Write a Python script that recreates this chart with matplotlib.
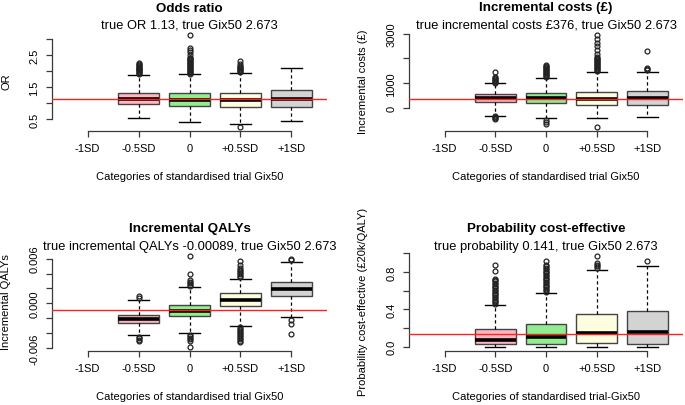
import matplotlib
matplotlib.use('Agg')
import matplotlib.pyplot as plt

plt.rcParams['font.family'] = ['Liberation Sans', 'DejaVu Sans']

categories = ['-1SD', '-0.5SD', '0', '+0.5SD', '+1SD']
box_colors = ['#FFB6C1', '#90EE90', '#FFFDE0', '#D3D3D3']
box_pos = [2, 3, 4, 5]

# odds ratio
or_lo = [0.53, 0.42, 0.37, 0.46]
or_q1 = [0.97, 0.93, 0.90, 0.90]
or_med = [1.14, 1.09, 1.11, 1.13]
or_q3 = [1.32, 1.32, 1.32, 1.40]
or_hi = [1.88, 1.90, 1.95, 2.10]
or_out = [
    [1.90, 1.93, 1.96, 1.99, 2.02, 2.05, 2.08, 2.11, 2.14, 2.17, 2.20, 2.23, 2.26],
    [1.92, 1.95, 1.98, 2.01, 2.04, 2.07, 2.10, 2.13, 2.16, 2.19, 2.22, 2.25, 2.28,
     2.31, 2.34, 2.37, 2.40, 2.42, 2.50, 2.58, 2.66, 2.73, 3.13],
    [1.97, 2.00, 2.03, 2.06, 2.09, 2.12, 2.15, 2.23, 2.31, 0.27],
    [],
]

# incremental costs
cost_lo = [-312, -417, -417, -377]
cost_q1 = [231, 190, 109, 109]
cost_med = [393, 405, 352, 417]
cost_q3 = [579, 619, 660, 700]
cost_hi = [1000, 1227, 1470, 1445]
cost_out = [
    [1030, 1070, 1110, 1150, 1190, 1230, 1270, 1445, -340, -380, -420, -450],
    [1260, 1300, 1340, 1380, 1420, 1460, 1500, 1540, 1580, 1620, 1660, 1700, 1740,
     -500, -560, -648],
    [1500, 1540, 1580, 1620, 1660, 1700, 1740, 1780, 1820, 1860, 1900, 1940, 1980,
     2020, 2077, 2200, 2348, 2510, 2644, 2780, 2960, -757],
    [1540, 1580, 1620, 2320],
]

# incremental QALYs
qaly_lo = [-0.0043, -0.0040, -0.0030, -0.00178]
qaly_q1 = [-0.00267, -0.0017, -0.0004, 0.00097]
qaly_med = [-0.00209, -0.00097, 0.00044, 0.0019]
qaly_q3 = [-0.00151, -0.00023, 0.00133, 0.0029]
qaly_hi = [0.0004, 0.00213, 0.0033, 0.00556]
qaly_out = [
    [0.00076, 0.00097, -0.0045, -0.0047, -0.0049, -0.0051],
    [0.0023, 0.0025, 0.0027, 0.0029, 0.0031, 0.0040, 0.0064,
     -0.0042, -0.0044, -0.0046, -0.0048, -0.0050, -0.00583],
    [0.0035, 0.0037, 0.0039, 0.0041, 0.0043, 0.0045, 0.0047, 0.0052, 0.0057,
     -0.0032, -0.0034, -0.0036, -0.0038, -0.0040, -0.0042, -0.0044, -0.0046,
     -0.0048, -0.0050, -0.0052],
    [0.0058, 0.0060, -0.00227, -0.0027, -0.00413],
]

# probability cost-effective
prob_lo = [0.0, 0.0, 0.0, 0.0]
prob_q1 = [0.032, 0.032, 0.040, 0.032]
prob_med = [0.078, 0.107, 0.153, 0.160]
prob_q3 = [0.190, 0.246, 0.350, 0.378]
prob_hi = [0.447, 0.575, 0.825, 0.868]
prob_out = [
    [0.46, 0.475, 0.49, 0.505, 0.52, 0.535, 0.55, 0.565, 0.58, 0.595, 0.61, 0.625,
     0.64, 0.655, 0.67, 0.685, 0.70, 0.715, 0.726, 0.807, 0.871],
    [0.59, 0.605, 0.62, 0.635, 0.65, 0.665, 0.68, 0.695, 0.71, 0.725, 0.74, 0.755,
     0.77, 0.785, 0.80, 0.815, 0.83, 0.845, 0.86, 0.879, 0.918],
    [0.84, 0.86, 0.88, 0.90, 0.975],
    [0.914],
]

panels = [
    dict(lo=or_lo, q1=or_q1, med=or_med, q3=or_q3, hi=or_hi, out=or_out,
         ref=1.13, ticks=[0.5, 1.0, 1.5, 2.0, 2.5, 3.0], labs={0.5: '0.5', 1.5: '1.5', 2.5: '2.5'},
         title='Odds ratio', sub='true OR 1.13, true Gix50 2.673', ylab='OR',
         xlab='Categories of standardised trial Gix50', box=(52, 327, 32, 131.5)),
    dict(lo=cost_lo, q1=cost_q1, med=cost_med, q3=cost_q3, hi=cost_hi, out=cost_out,
         ref=376, ticks=[0, 1000, 2000, 3000], labs={0: '0', 1000: '1000', 3000: '3000'},
         title='Incremental costs (£)', sub='true incremental costs £376, true Gix50 2.673',
         ylab='Incremental costs (£)',
         xlab='Categories of standardised trial Gix50', box=(409, 683, 32, 131.5)),
    dict(lo=qaly_lo, q1=qaly_q1, med=qaly_med, q3=qaly_q3, hi=qaly_hi, out=qaly_out,
         ref=-0.00089, ticks=[-0.006, -0.004, -0.002, 0.0, 0.002, 0.004, 0.006],
         labs={-0.006: '-0.006', 0.0: '0.000', 0.006: '0.006'},
         title='Incremental QALYs', sub='true incremental QALYs -0.00089, true Gix50 2.673',
         ylab='Incremental QALYs',
         xlab='Categories of standardised trial Gix50', box=(52, 327, 253, 351.5)),
    dict(lo=prob_lo, q1=prob_q1, med=prob_med, q3=prob_q3, hi=prob_hi, out=prob_out,
         ref=0.141, ticks=[0.0, 0.2, 0.4, 0.6, 0.8, 1.0], labs={0.0: '0.0', 0.4: '0.4', 0.8: '0.8'},
         title='Probability cost-effective', sub='true probability 0.141, true Gix50 2.673',
         ylab='Probability cost-effective (£20k/QALY)',
         xlab='Categories of standardised trial-Gix50', box=(409, 683, 253, 351.5)),
]

W, H = 685, 406
fig = plt.figure(figsize=(W / 100, H / 100), dpi=100)
axis_col = '#3a3a3a'

for p in panels:
    l, r, t, b = p['box']
    ax = fig.add_axes([l / W, 1 - b / H, (r - l) / W, (b - t) / H])
    wpx, hpx = r - l, b - t

    stats = []
    for i in range(4):
        stats.append(dict(whislo=p['lo'][i], q1=p['q1'][i], med=p['med'][i],
                          q3=p['q3'][i], whishi=p['hi'][i], fliers=p['out'][i]))
    allv = p['lo'] + p['hi'] + [v for o in p['out'] for v in o]
    lo, hi = min(allv), max(allv)
    pad = 0.04 * (hi - lo)

    ax.bxp(stats, positions=box_pos, widths=0.8, patch_artist=True,
           boxprops=dict(edgecolor='#444444', linewidth=1.0),
           medianprops=dict(color='black', linewidth=2.6),
           whiskerprops=dict(color='black', linewidth=0.9, linestyle=(0, (2.6, 2.2))),
           capprops=dict(color='black', linewidth=1.0),
           flierprops=dict(marker='o', markersize=3.5, markerfacecolor='none',
                           markeredgecolor='#222222', markeredgewidth=0.9))
    for patch, c in zip(ax.patches, box_colors):
        patch.set_facecolor(c)

    ax.axhline(p['ref'], color='#FF2020', linewidth=1.0, zorder=5)

    ax.set_xlim(0.3, 5.7)
    ax.set_ylim(lo - pad, hi + pad)

    for s in ['top', 'right']:
        ax.spines[s].set_visible(False)
    ax.spines['left'].set_bounds(p['ticks'][0], p['ticks'][-1])
    ax.spines['bottom'].set_bounds(1, 5)
    for s in ['left', 'bottom']:
        ax.spines[s].set_color(axis_col)
        ax.spines[s].set_linewidth(0.9)

    ax.set_xticks([1, 2, 3, 4, 5])
    ax.set_xticklabels(categories)
    ax.set_yticks(p['ticks'])
    ax.set_yticklabels([p['labs'].get(v, '') for v in p['ticks']])
    ax.tick_params(length=4.5, width=0.9, color=axis_col, labelsize=8, pad=4.5)
    ax.tick_params(axis='y', labelrotation=90)
    for lab in ax.get_yticklabels():
        lab.set_va('center')

    ax.set_xlabel(p['xlab'], fontsize=8)
    ax.xaxis.set_label_coords(0.5, -41 / hpx)
    ax.xaxis.label.set_va('top')
    ax.set_ylabel(p['ylab'], fontsize=8)
    ax.yaxis.set_label_coords(-46 / wpx, 0.5)
    ax.yaxis.label.set_va('center')

    ax.text(0.5, 1 + 20.5 / hpx, p['title'], transform=ax.transAxes, ha='center',
            va='baseline', fontsize=9.6, fontweight='bold')
    ax.text(0.5, 1 + 3 / hpx, p['sub'], transform=ax.transAxes, ha='center',
            va='baseline', fontsize=9.3)

fig.savefig('out.png', dpi=100)
